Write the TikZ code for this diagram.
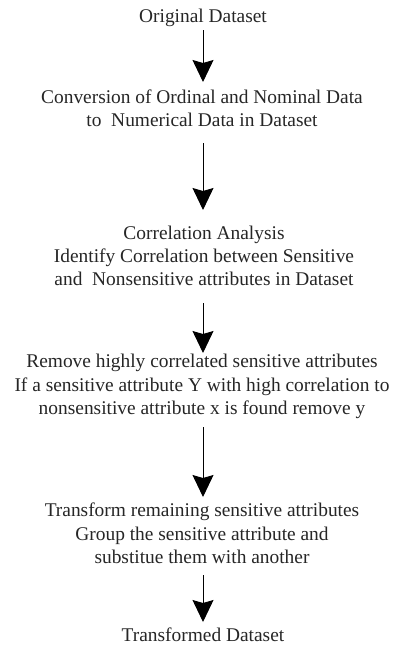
\documentclass[tikz,border=0pt]{standalone}
\usepackage{fontspec}
\setmainfont{Liberation Serif}
\usetikzlibrary{arrows.meta}
\begin{document}
\begin{tikzpicture}[x=1pt,y=1pt,
  txt/.style={inner sep=0pt, align=center, font=\fontsize{19.4}{23.3}\selectfont, text=black!85},
  arr/.style={line width=1pt, -{Stealth[width=21pt,length=22pt,inset=3pt]}}]
\useasboundingbox[fill=white] (0,0) rectangle (392,-645);
\node[txt] (n1) at (203,-18) {Original Dataset};
\node[txt] (n2) at (202,-108.5) {Conversion of Ordinal and Nominal Data\\to\ \ Numerical Data in Dataset};
\node[txt] (n3) at (204,-256) {Correlation Analysis\\Identify Correlation between Sensitive\\and\ \ Nonsensitive attributes in Dataset};
\node[txt] (n4) at (202,-386.5) {Remove highly correlated sensitive attributes\\If a sensitive attribute Y with high correlation to\\nonsensitive attribute x is found remove y};
\node[txt] (n5) at (202,-533.5) {Transform remaining sensitive attributes\\Group the sensitive attribute and\\substitue them with another};
\node[txt] (n6) at (203,-635) {Transformed Dataset};
\coordinate (s1) at (203,-30);  \coordinate (e1) at (203,-82);
\coordinate (s2) at (203,-143); \coordinate (e2) at (203,-210);
\coordinate (s3) at (203,-303); \coordinate (e3) at (203,-353);
\coordinate (s4) at (203,-427); \coordinate (e4) at (203,-497);
\coordinate (s5) at (203,-575); \coordinate (e5) at (203,-622);
\draw[arr] (s1) -- (e1);
\draw[arr] (s2) -- (e2);
\draw[arr] (s3) -- (e3);
\draw[arr] (s4) -- (e4);
\draw[arr] (s5) -- (e5);
\end{tikzpicture}
\end{document}
